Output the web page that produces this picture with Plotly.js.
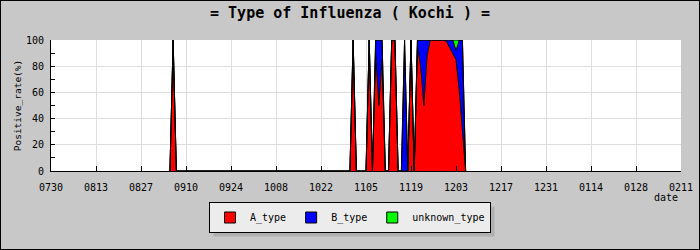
<!DOCTYPE html>
<html>
<head>
<meta charset="utf-8">
<script src="https://cdn.plot.ly/plotly-3.0.1.min.js"></script>
<style>
  html, body { margin: 0; padding: 0; background: #c8c8c8; }
  #frame { width: 700px; height: 250px; box-sizing: border-box; border: 1px solid #000; overflow: hidden; }
  #chart { width: 698px; height: 248px; }
</style>
</head>
<body>
<div id="frame"><div id="chart"></div></div>
<script>
// ---- data (daily positive-rate shares, %) ----
const dates = [
  '2009-09-05','2009-09-06','2009-09-07',
  '2009-10-31','2009-11-01','2009-11-02',
  '2009-11-05','2009-11-06','2009-11-07',
  '2009-11-08','2009-11-09','2009-11-10',
  '2009-11-11','2009-11-12',
  '2009-11-13','2009-11-14',
  '2009-11-15','2009-11-16',
  '2009-11-17','2009-11-18',
  '2009-11-19','2009-11-20',
  '2009-11-21','2009-11-22','2009-11-23','2009-11-24',
  '2009-11-25','2009-11-26','2009-11-27','2009-11-28','2009-11-29',
  '2009-11-30','2009-12-01','2009-12-02','2009-12-03','2009-12-04','2009-12-05','2009-12-06'
];
const aType = [0,100,0, 0,100,0, 0,100,0, 90,50,85, 0,0, 100,100, 0,0, 0,0, 100,0, 95,80,50,88, 100,100,100,100,100, 99,94,90,85,62,33,0];
const bType = [0,0,0, 0,0,0, 0,0,0, 10,50,15, 0,0, 0,0, 0,0, 100,0, 0,0, 5,20,50,12, 0,0,0,0,0, 1,6,10,7,38,67,0];
const unknownType = [0,0,0, 0,0,0, 0,0,0, 0,0,0, 0,0, 0,0, 0,0, 0,0, 0,0, 0,0,0,0, 0,0,0,0,0, 0,0,0,8,0,0,0];

const seriesNames = ['A_type', 'B_type', 'unknown_type'];
const tickDates = ['2009-07-30','2009-08-13','2009-08-27','2009-09-10','2009-09-24','2009-10-08','2009-10-22',
                   '2009-11-05','2009-11-19','2009-12-03','2009-12-17','2009-12-31','2010-01-14','2010-01-28','2010-02-11'];
const tickLabels = ['0730','0813','0827','0910','0924','1008','1022','1105','1119','1203','1217','1231','0114','0128','0211'];

// ---- styling ----
const colors = ['#ff0000', '#0000ff', '#00ff00'];
const mono = 'DejaVu Sans Mono, monospace';
const values = [aType, bType, unknownType];

const traces = values.map((v, i) => ({
  type: 'scatter', mode: 'lines', x: dates, y: v, name: seriesNames[i],
  stackgroup: 'one', fillcolor: colors[i],
  line: { color: '#000000', width: 1, shape: 'linear' },
  showlegend: false, hoverinfo: 'skip'
}));
// legend entries with square swatches
seriesNames.forEach((n, i) => traces.push({
  type: 'scatter', mode: 'markers', x: [null], y: [null], name: n,
  marker: { symbol: 'square', size: 11, color: colors[i], line: { color: '#000', width: 1 } },
  showlegend: true
}));

const L = 50, R = 18, T = 39, B = 78;
const layout = {
  width: 698, height: 248,
  margin: { l: L, r: R, t: T, b: B, pad: 0 },
  paper_bgcolor: '#c8c8c8', plot_bgcolor: '#ffffff',
  font: { family: mono, size: 10, color: '#000' },
  title: { text: '= Type of Influenza ( Kochi ) =', font: { family: mono, size: 15, weight: 'bold', color: '#000' },
           xref: 'container', x: 0.5, xanchor: 'center', yref: 'container', y: 1 - 12 / 248, yanchor: 'middle' },
  xaxis: {
    type: 'date', range: [tickDates[0], tickDates[tickDates.length - 1]],
    tickmode: 'array', tickvals: tickDates, ticktext: tickLabels,
    ticks: 'inside', ticklen: 5, tickcolor: '#000', tickwidth: 1,
    showline: true, linecolor: '#000', linewidth: 1,
    showgrid: true, gridcolor: '#dedede', gridwidth: 1, zeroline: false,
    tickfont: { family: mono, size: 10 }, ticklabelstandoff: 7, fixedrange: true
  },
  yaxis: {
    range: [0, 100], tickmode: 'linear', tick0: 0, dtick: 20,
    ticks: 'inside', ticklen: 4, tickcolor: '#000', tickwidth: 1,
    minor: { dtick: 10, ticks: 'inside', ticklen: 4, tickcolor: '#000', showgrid: false },
    showline: true, linecolor: '#000', linewidth: 1,
    showgrid: true, gridcolor: '#dedede', gridwidth: 1, zeroline: false,
    tickfont: { family: mono, size: 10 }, ticklabelstandoff: 4,
    title: { text: 'Positive_rate(%)', font: { family: mono, size: 9.5 }, standoff: 2 },
    fixedrange: true
  },
  legend: {
    orientation: 'h', xref: 'container', x: 0.5, xanchor: 'center', traceorder: 'normal',
    yref: 'container', y: 1 - 201 / 248, yanchor: 'top',
    bgcolor: '#ececec', bordercolor: '#000', borderwidth: 1,
    font: { family: mono, size: 10 }, itemwidth: 30, tracegroupgap: 0
  },
  annotations: [{
    text: 'date', xref: 'paper', yref: 'paper', x: 1, y: -(26 / 131), xanchor: 'right', yanchor: 'middle',
    showarrow: false, font: { family: mono, size: 10 }, xshift: -1
  }],
  showlegend: true
};

Plotly.newPlot('chart', traces, layout, { staticPlot: true, displayModeBar: false }).then(gd => {
  // legend drop shadow
  const lg = gd.querySelector('.legend .bg');
  if (!lg) return;
  const r = lg.getBoundingClientRect();
  const s = gd.getBoundingClientRect();
  const fl = gd._fullLayout;
  const pw = fl._size.w, ph = fl._size.h, pl = fl._size.l, pt = fl._size.t;
  const toX = px => (px - s.left - pl) / pw;
  const toY = py => 1 - (py - s.top - pt) / ph;
  Plotly.relayout(gd, {
    shapes: [{
      type: 'rect', xref: 'paper', yref: 'paper', layer: 'below',
      x0: toX(r.left + 4), x1: toX(r.right + 4), y0: toY(r.bottom + 4), y1: toY(r.top + 4),
      fillcolor: '#b0b0b0', line: { width: 0 }
    }]
  });
});
</script>
</body>
</html>
